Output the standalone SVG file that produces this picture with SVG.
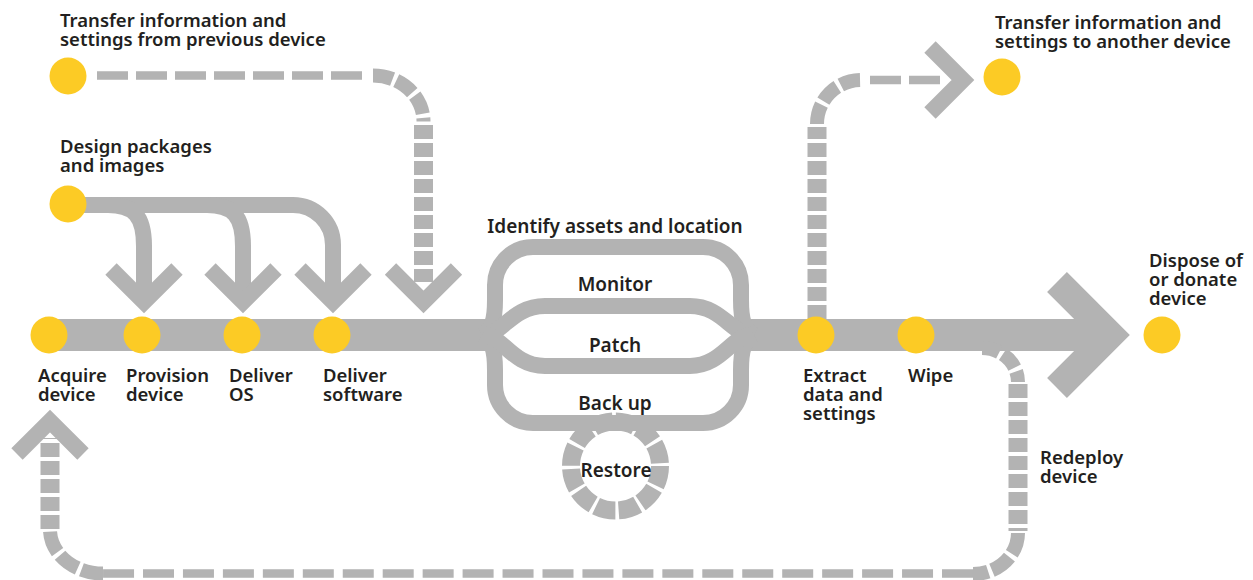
<svg xmlns="http://www.w3.org/2000/svg" width="1253" height="580" viewBox="0 0 1253 580">
<style>
.bar{fill:none;stroke:#b3b3b3;stroke-linejoin:miter;stroke-linecap:butt}
.dh{fill:none;stroke:#b3b3b3;stroke-width:8.5;stroke-dasharray:31 8}
.dv{fill:none;stroke:#b3b3b3;stroke-width:19;stroke-dasharray:14 4}
.dc{fill:none;stroke:#b3b3b3;stroke-width:14;stroke-dasharray:22 4}
.dot{fill:#fccb25}
text{font-family:"Noto Sans","Open Sans","DejaVu Sans",sans-serif;font-weight:600;font-size:18.5px;fill:#231f20}
.c{text-anchor:middle;font-size:19px}
</style>
<defs>
<polyline id="chev" points="-33,-33 0,0 33,-33" fill="none" stroke="#b3b3b3" stroke-width="16" stroke-linejoin="miter"/>
</defs>
<g id="connectors">
  <!-- restore loop (under back-up bar) -->
  <circle cx="615.5" cy="466" r="44.5" fill="none" stroke="#b3b3b3" stroke-width="18" stroke-dasharray="20 3.3"/>
  <!-- main bar -->
  <path class="bar" stroke-width="32" d="M49 335 H486"/>
  <path class="bar" stroke-width="32" d="M748 335 H1098"/>
  <polyline class="bar" stroke-width="28" points="1057,282 1110,335 1057,388"/>
  <!-- management loops -->
  <path class="bar" stroke-width="16" d="M482 335 C492 330 495 320 495 300 V285 A38 38 0 0 1 533 247 H703 A38 38 0 0 1 741 285 V300 C741 320 744 330 754 335"/>
  <path class="bar" stroke-width="16" d="M482 335 C492 340 495 350 495 370 V385 A38 38 0 0 0 533 423 H703 A38 38 0 0 0 741 385 V370 C741 350 744 340 754 335"/>
  <path class="bar" stroke-width="16" d="M484 335 C502 335 512 306 545 306 H690 C722 306 732 335 752 335"/>
  <path class="bar" stroke-width="16" d="M484 335 C502 335 512 366 545 366 H690 C722 366 732 335 752 335"/>
  <!-- design packages branches -->
  <path class="bar" stroke-width="16" d="M68 205 H293 A40 40 0 0 1 333 245 V298"/>
  <path class="bar" stroke-width="16" d="M108 205 C134 205 144 216 144 246 V298"/>
  <path class="bar" stroke-width="16" d="M207 205 C233 205 243 216 243 246 V298"/>
  <use href="#chev" x="144" y="302"/>
  <use href="#chev" x="243" y="302"/>
  <use href="#chev" x="333" y="302"/>
  <!-- transfer from previous device -->
  <path class="dh" d="M97 75.5 H366"/>
  <path class="dc" style="stroke-dasharray:20 4" d="M373 75.5 A50.5 46 0 0 1 423.5 121.5"/>
  <path class="dv" d="M423.5 125 V282"/>
  <use href="#chev" x="423.5" y="302"/>
  <!-- extract to another device -->
  <path class="dv" d="M817 319 V127"/>
  <path class="dc" style="stroke-dasharray:20 4" d="M817 124 A44 44 0 0 1 861 80"/>
  <path class="dh" d="M870 80 H945"/>
  <use href="#chev" transform="translate(963 80) rotate(-90)"/>
  <!-- redeploy -->
  <path class="dc" style="stroke-dasharray:18 4" d="M982 348 A36 34 0 0 1 1018 382"/>
  <path class="dv" d="M1018 384 V531"/>
  <path class="dc" d="M1018 533 A45 41 0 0 1 973 574"/>
  <path class="dh" style="stroke-dasharray:31 8.95" d="M973 573.5 H103"/>
  <path class="dc" d="M103 573.5 A53 44 0 0 1 50 529.5"/>
  <path class="dv" d="M50 529 V438"/>
  <use href="#chev" transform="translate(50 421) rotate(180)"/>
  <text x="1040" y="464">Redeploy<tspan x="1040" dy="19">device</tspan></text>
</g>
<g id="n-transfer-from">
  <circle class="dot" cx="68" cy="76" r="18.5"/>
  <text x="60" y="27">Transfer information and<tspan x="60" dy="19">settings from previous device</tspan></text>
</g>
<g id="n-design">
  <circle class="dot" cx="68" cy="204" r="18.5"/>
  <text x="60" y="153">Design packages<tspan x="60" dy="19">and images</tspan></text>
</g>
<g id="n-acquire">
  <circle class="dot" cx="49" cy="335" r="18.5"/>
  <text x="38" y="382">Acquire<tspan x="38" dy="19">device</tspan></text>
</g>
<g id="n-provision">
  <circle class="dot" cx="142" cy="335" r="18.5"/>
  <text x="126" y="382">Provision<tspan x="126" dy="19">device</tspan></text>
</g>
<g id="n-deliver-os">
  <circle class="dot" cx="242" cy="335" r="18.5"/>
  <text x="229" y="382">Deliver<tspan x="229" dy="19">OS</tspan></text>
</g>
<g id="n-deliver-sw">
  <circle class="dot" cx="332" cy="335" r="18.5"/>
  <text x="323" y="382">Deliver<tspan x="323" dy="19">software</tspan></text>
</g>
<g id="n-identify"><text class="c" x="615" y="233">Identify assets and location</text></g>
<g id="n-monitor"><text class="c" x="615" y="291">Monitor</text></g>
<g id="n-patch"><text class="c" x="615" y="352">Patch</text></g>
<g id="n-backup"><text class="c" x="615" y="410">Back up</text></g>
<g id="n-restore"><text class="c" x="616" y="477">Restore</text></g>
<g id="n-extract">
  <circle class="dot" cx="816" cy="335" r="18.5"/>
  <text x="803" y="382">Extract<tspan x="803" dy="19">data and</tspan><tspan x="803" dy="19">settings</tspan></text>
</g>
<g id="n-wipe">
  <circle class="dot" cx="916" cy="335" r="18.5"/>
  <text x="908" y="382">Wipe</text>
</g>
<g id="n-dispose">
  <circle class="dot" cx="1162" cy="335" r="18.5"/>
  <text x="1149" y="267">Dispose of<tspan x="1149" dy="19">or donate</tspan><tspan x="1149" dy="19">device</tspan></text>
</g>
<g id="n-transfer-to">
  <circle class="dot" cx="1002" cy="77" r="18.5"/>
  <text x="995" y="29">Transfer information and<tspan x="995" dy="19">settings to another device</tspan></text>
</g>
</svg>
